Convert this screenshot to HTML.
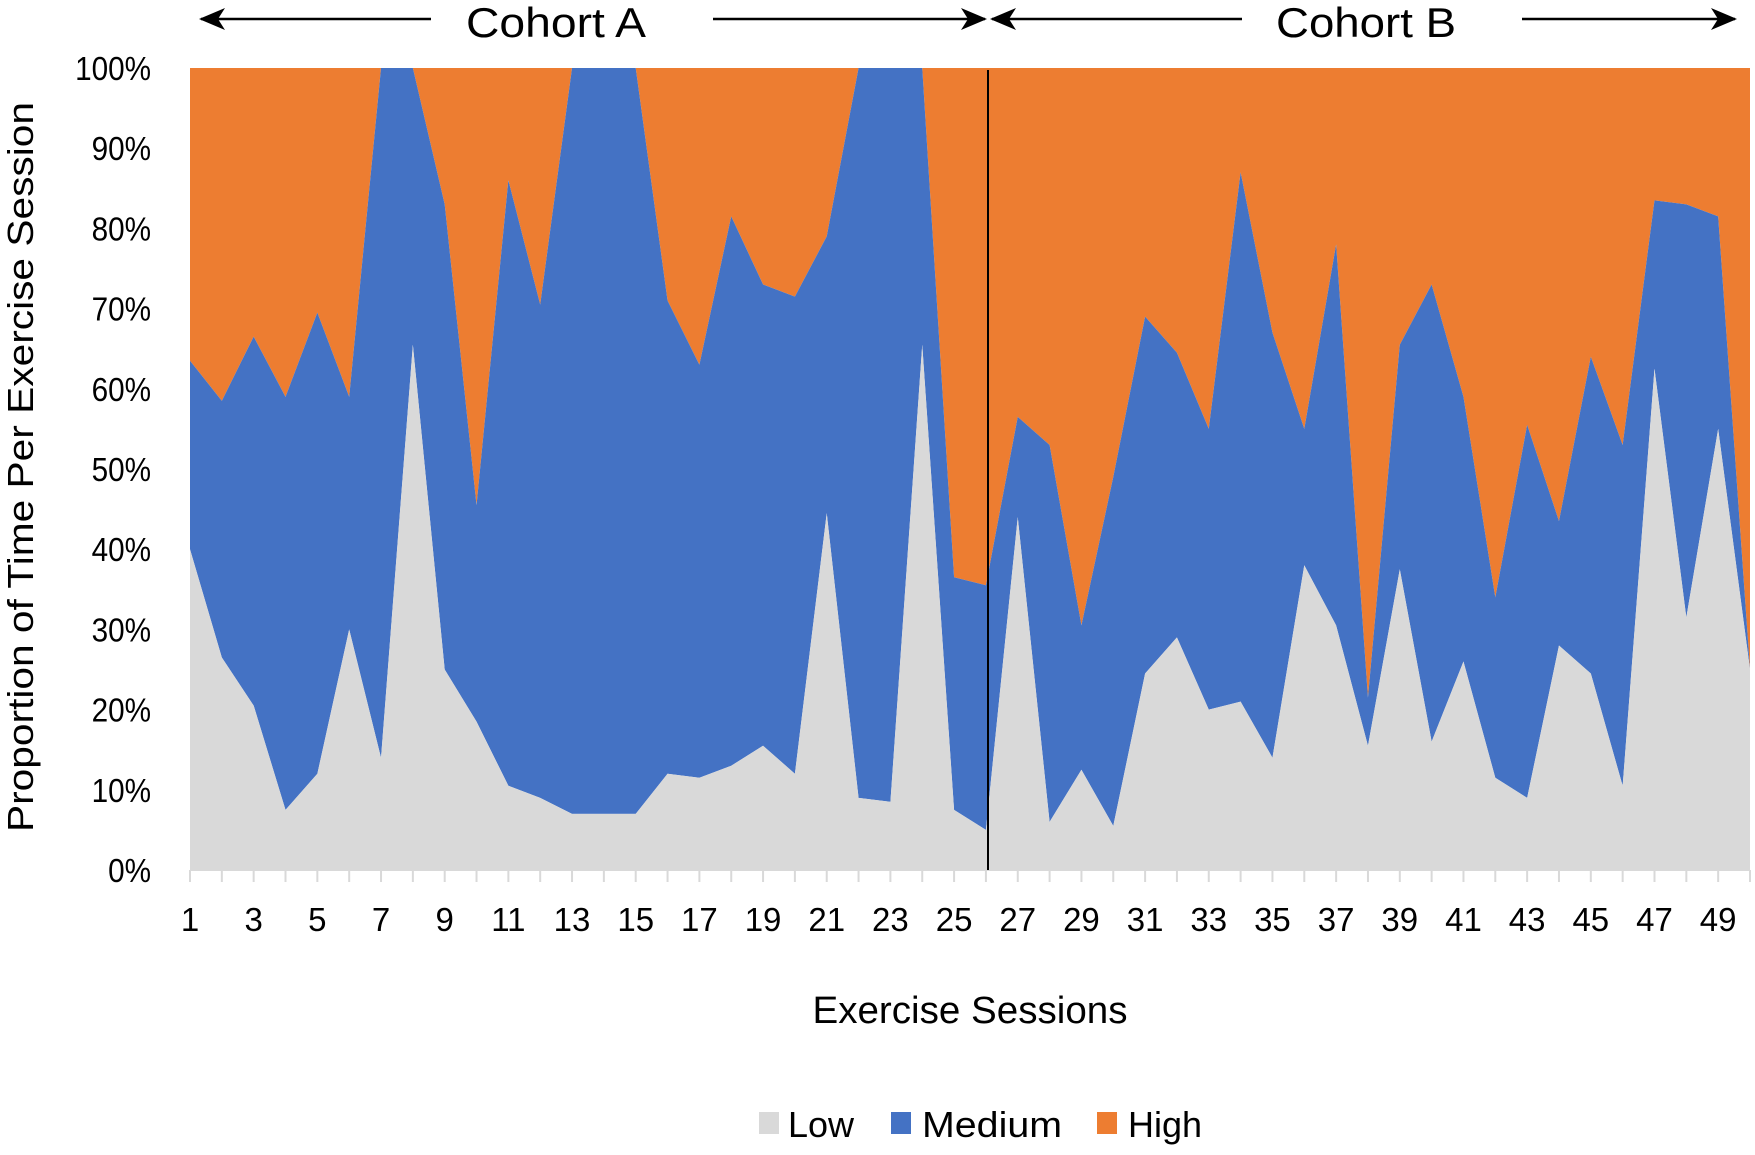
<!DOCTYPE html>
<html><head><meta charset="utf-8"><style>
body{margin:0;background:#fff}
svg text{font-family:"Liberation Sans",sans-serif;fill:#000}
</style></head><body>
<svg id="chart" width="1755" height="1150" viewBox="0 0 1755 1150" xmlns="http://www.w3.org/2000/svg">
<defs><marker id="ah" markerUnits="userSpaceOnUse" markerWidth="26" markerHeight="26" refX="24" refY="13" orient="auto-start-reverse"><path d="M0,2 L26,13 L0,24 L7,13 z" fill="#000"/></marker></defs>
<g id="areas"></g>
<g id="axes"></g>
<line x1="988" y1="70" x2="988" y2="870" stroke="#000" stroke-width="2"/>
<line x1="431" y1="19" x2="201" y2="19" stroke="#000" stroke-width="2.5" marker-end="url(#ah)"/>
<line x1="713" y1="19" x2="985" y2="19" stroke="#000" stroke-width="2.5" marker-end="url(#ah)"/>
<text x="556" y="37" font-size="42" text-anchor="middle" textLength="180" lengthAdjust="spacingAndGlyphs">Cohort A</text>
<line x1="1242" y1="19" x2="992" y2="19" stroke="#000" stroke-width="2.5" marker-end="url(#ah)"/>
<line x1="1522" y1="19" x2="1735" y2="19" stroke="#000" stroke-width="2.5" marker-end="url(#ah)"/>
<text x="1366" y="37" font-size="42" text-anchor="middle" textLength="180" lengthAdjust="spacingAndGlyphs">Cohort B</text>
<text transform="translate(33,467) rotate(-90)" font-size="36" text-anchor="middle" textLength="730" lengthAdjust="spacingAndGlyphs">Proportion of Time Per Exercise Session</text>
<text x="970" y="1023" font-size="38" text-anchor="middle" textLength="315" lengthAdjust="spacingAndGlyphs">Exercise Sessions</text>
<g>
<rect x="759" y="1112" width="20" height="22" fill="#d9d9d9"/>
<text x="788" y="1137" font-size="36" textLength="66" lengthAdjust="spacingAndGlyphs">Low</text>
<rect x="891" y="1112" width="20" height="22" fill="#4472c4"/>
<text x="922" y="1137" font-size="36" textLength="140" lengthAdjust="spacingAndGlyphs">Medium</text>
<rect x="1097" y="1112" width="20" height="22" fill="#ed7d31"/>
<text x="1128" y="1137" font-size="36" textLength="74" lengthAdjust="spacingAndGlyphs">High</text>
</g>
</svg>
<script>
const sessions = Array.from({length:50},(_,i)=>i+1);
const low = [40,26.5,20.5,7.5,12,30,14,65.5,25,18.5,10.5,9,7,7,7,12,11.5,13,15.5,12,44.5,9,8.5,65.5,7.5,5,44,6,12.5,5.5,24.5,29,20,21,14,38,30.5,15.5,37.5,16,26,11.5,9,28,24.5,10.5,62.5,31.5,55,25];
const lowPlusMedium = [63.5,58.5,66.5,59,69.5,59,100,100,83,45.5,86,70.5,100,100,100,71,63,81.5,73,71.5,79,100,100,100,36.5,35.5,56.5,53,30.5,49,69,64.5,55,87,67,55,78,21.5,65.5,73,59,34,55.5,43.5,64,53,83.5,83,81.5,25];
const medium = lowPlusMedium.map((v,i)=>v-low[i]);
const high = lowPlusMedium.map(v=>100-v);
const yTicks = [0,10,20,30,40,50,60,70,80,90,100];
const xLabels = sessions.filter(s=>s%2===1);

const L=190,R=1750,T=68,B=870;
const x = s => L + (s-1)*(R-L)/(sessions.length-1);
const y = v => B - v*(B-T)/100;
const NS='http://www.w3.org/2000/svg';
const areas=document.getElementById('areas'), axes=document.getElementById('axes');

function band(lo, hi, color, name){
  let pts=[];
  sessions.forEach((s,i)=>pts.push(x(s)+','+y(hi[i])));
  for(let i=sessions.length-1;i>=0;i--) pts.push(x(sessions[i])+','+y(lo[i]));
  const p=document.createElementNS(NS,'polygon');
  p.setAttribute('points',pts.join(' '));
  p.setAttribute('fill',color);
  
  
  areas.appendChild(p);
}
const zeros=sessions.map(()=>0);
const cum1=low.slice();
const cum2=low.map((v,i)=>v+medium[i]);
const cum3=cum2.map((v,i)=>v+high[i]);
band(cum2,cum3,'#ed7d31','high-area');
band(cum1,cum2,'#4472c4','medium-area');
band(zeros,cum1,'#d9d9d9','low-area');

yTicks.forEach(t=>{
  const tx=document.createElementNS(NS,'text');
  tx.setAttribute('x',151);tx.setAttribute('y',y(t)+12);
  tx.setAttribute('font-size','33');tx.setAttribute('text-anchor','end');
  tx.setAttribute('transform','translate('+(151*0.1)+',0) scale(0.9,1)');
  tx.textContent=t+'%';
  
  
  axes.appendChild(tx);
});
const ax=document.createElementNS(NS,'line');
ax.setAttribute('x1',L);ax.setAttribute('x2',R);ax.setAttribute('y1',B);ax.setAttribute('y2',B);
ax.setAttribute('stroke','#d9d9d9');ax.setAttribute('stroke-width','2');


axes.appendChild(ax);
sessions.forEach(s=>{
  const tk=document.createElementNS(NS,'line');
  tk.setAttribute('x1',x(s));tk.setAttribute('x2',x(s));tk.setAttribute('y1',B);tk.setAttribute('y2',B+12);
  tk.setAttribute('stroke','#d9d9d9');tk.setAttribute('stroke-width','2');
  
  
  axes.appendChild(tk);
});
xLabels.forEach(s=>{
  const tx=document.createElementNS(NS,'text');
  tx.setAttribute('x',x(s));tx.setAttribute('y',931);
  tx.setAttribute('font-size','33');tx.setAttribute('text-anchor','middle');
  tx.textContent=s;
  
  
  axes.appendChild(tx);
});
</script>
</body></html>
